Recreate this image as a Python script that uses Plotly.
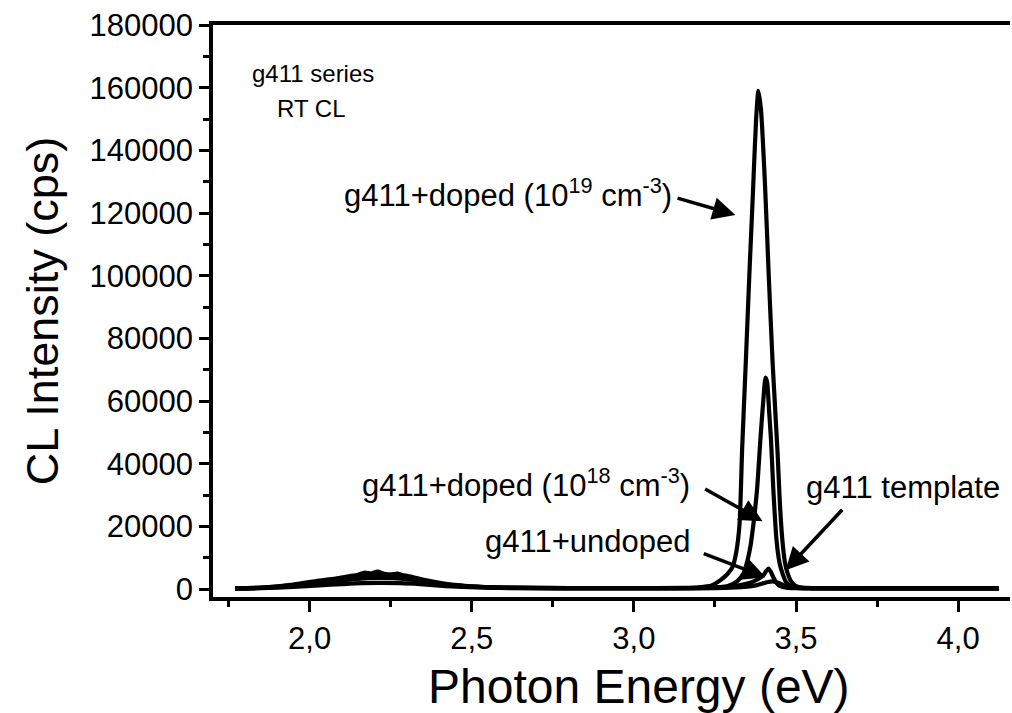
import plotly.graph_objects as go

# ---------------- data ----------------
# g411+doped (1e19 cm^-3)
x_d19 = [1.77, 1.85, 1.95, 2.02, 2.08, 2.12, 2.15, 2.17, 2.19, 2.21, 2.23, 2.25, 2.27, 2.29,
         2.32, 2.36, 2.42, 2.50, 2.60, 2.80, 3.00, 3.15, 3.20, 3.24, 3.267, 3.29, 3.304, 3.316,
         3.326, 3.334, 3.345, 3.356, 3.367, 3.377, 3.384, 3.392, 3.404, 3.416, 3.428, 3.443,
         3.450, 3.458, 3.466, 3.474, 3.485, 3.50, 3.52, 3.60, 3.80, 4.00, 4.125]
y_d19 = [300, 500, 1500, 2600, 3400, 4100, 4600, 5300, 5000, 5600, 4900, 4700, 5000, 4400,
         3800, 2800, 1700, 900, 500, 350, 350, 400, 600, 1200, 2900, 5000, 7000, 12000,
         21000, 45000, 72000, 100000, 126000, 150000, 159000, 153000, 130000, 100000, 72000, 44000,
         28000, 15600, 8500, 5100, 2500, 1000, 500, 300, 280, 260, 250]

# g411+doped (1e18 cm^-3)
x_d18 = [1.77, 1.85, 1.95, 2.02, 2.08, 2.12, 2.16, 2.18, 2.20, 2.22, 2.24, 2.26, 2.28, 2.31,
         2.35, 2.41, 2.50, 2.60, 2.80, 3.00, 3.15, 3.25, 3.29, 3.319, 3.338, 3.350, 3.360,
         3.369, 3.380, 3.390, 3.399, 3.406, 3.411, 3.417, 3.423, 3.430, 3.440, 3.449, 3.458,
         3.468, 3.48, 3.50, 3.60, 3.80, 4.00, 4.125]
y_d18 = [300, 450, 1300, 2300, 3100, 3700, 4200, 4500, 4300, 4700, 4400, 4500, 4200, 3600,
         2700, 1600, 850, 480, 330, 330, 320, 500, 1000, 2600, 5000, 9000, 14000,
         21000, 32000, 47500, 60000, 67500, 66000, 57000, 47500, 32000, 15600, 8500, 5100,
         2500, 1200, 500, 300, 270, 260, 250]

# g411+undoped
x_und = [1.77, 1.85, 1.95, 2.02, 2.08, 2.13, 2.18, 2.22, 2.26, 2.30, 2.34, 2.40, 2.48, 2.60,
         2.80, 3.00, 3.20, 3.30, 3.35, 3.38, 3.40, 3.408, 3.415, 3.422, 3.43, 3.44, 3.45,
         3.47, 3.50, 3.60, 3.80, 4.00, 4.125]
y_und = [250, 400, 1000, 1800, 2500, 3100, 3500, 3600, 3500, 3200, 2600, 1700, 900, 450,
         300, 300, 400, 900, 1800, 3000, 4500, 5800, 6600, 5600, 3800, 2000, 1000,
         500, 320, 270, 250, 240, 240]

# g411 template
x_tpl = [1.77, 1.85, 1.95, 2.03, 2.10, 2.16, 2.22, 2.28, 2.34, 2.42, 2.52, 2.65, 2.85, 3.05,
         3.25, 3.33, 3.38, 3.41, 3.43, 3.45, 3.47, 3.49, 3.55, 3.70, 3.90, 4.125]
y_tpl = [200, 300, 700, 1200, 1600, 1900, 2000, 1900, 1600, 1000, 550, 300, 250, 250,
         300, 600, 1300, 2200, 2500, 1800, 900, 450, 280, 250, 240, 240]

x_tick_vals = [2.0, 2.5, 3.0, 3.5, 4.0]
y_tick_vals = [0, 20000, 40000, 60000, 80000, 100000, 120000, 140000, 160000, 180000]

FONT = "Arial, 'Liberation Sans', sans-serif"

fig = go.Figure()
for xs, ys in [(x_tpl, y_tpl), (x_und, y_und), (x_d18, y_d18), (x_d19, y_d19)]:
    fig.add_trace(go.Scatter(x=xs, y=ys, mode="lines",
                             line=dict(color="black", width=4.2, shape="spline", smoothing=0.6),
                             showlegend=False, hoverinfo="skip"))

annotations = [
    dict(text="g411 series", x=1.815, y=164500, xanchor="left", yanchor="middle",
         showarrow=False, font=dict(size=24)),
    dict(text="RT CL", x=1.893, y=153500, xanchor="left", yanchor="middle",
         showarrow=False, font=dict(size=24)),
    dict(text="g411+doped (10<sup>19</sup> cm<sup>-3</sup>)", x=3.125, y=126500,
         xanchor="right", yanchor="middle", showarrow=False, font=dict(size=31)),
    dict(text="g411+doped (10<sup>18</sup> cm<sup>-3</sup>)", x=3.18, y=33800,
         xanchor="right", yanchor="middle", showarrow=False, font=dict(size=31)),
    dict(text="g411+undoped", x=3.18, y=15200,
         xanchor="right", yanchor="middle", showarrow=False, font=dict(size=31)),
    dict(text="g411 template", x=4.135, y=32500,
         xanchor="right", yanchor="middle", showarrow=False, font=dict(size=31)),
    # x-axis title
    dict(text="Photon Energy (eV)", xref="paper", yref="paper", x=0.5345, y=-0.157,
         xanchor="center", yanchor="middle", showarrow=False, font=dict(size=48)),
]
arrows = [
    (3.313, 119400, 3.130, 124900),
    (3.397, 21700, 3.215, 32200),
    (3.406, 3800, 3.211, 11500),
    (3.468, 6000, 3.647, 25800),
]
for tx, ty, sx, sy in arrows:
    annotations.append(dict(x=tx, y=ty, ax=sx, ay=sy, xref="x", yref="y", axref="x", ayref="y",
                            text="", showarrow=True, arrowhead=2, arrowsize=1.3,
                            arrowwidth=3.5, arrowcolor="black", standoff=0))

fig.update_layout(
    width=1012, height=713,
    margin=dict(l=213, r=2, t=25, b=116),
    paper_bgcolor="white", plot_bgcolor="white",
    font=dict(family=FONT, color="black"),
    separators=",.",
    annotations=annotations,
)
fig.update_xaxes(
    range=[1.702, 4.16], tickmode="array", tickvals=x_tick_vals, tickformat=".1f",
    showgrid=False, zeroline=False, showline=True, linecolor="black", linewidth=3.5,
    mirror=True, ticks="outside", ticklen=11, tickwidth=3, tickcolor="black",
    tickfont=dict(size=31),
    minor=dict(ticks="outside", tickvals=[1.75, 2.25, 2.75, 3.25, 3.75],
               ticklen=6, tickwidth=3, tickcolor="black"),
)
fig.update_yaxes(
    range=[-2500, 180000], tickmode="array", tickvals=y_tick_vals, tickformat="d",
    showgrid=False, zeroline=False, showline=True, linecolor="black", linewidth=3.5,
    mirror=False, ticks="outside", ticklen=10, tickwidth=3, tickcolor="black",
    tickfont=dict(size=31),
    minor=dict(ticks="outside", dtick=10000, tick0=0, ticklen=6, tickwidth=3, tickcolor="black"),
    title=dict(text="CL Intensity (cps)", font=dict(size=45), standoff=18),
)

fig.write_html("out.html")
